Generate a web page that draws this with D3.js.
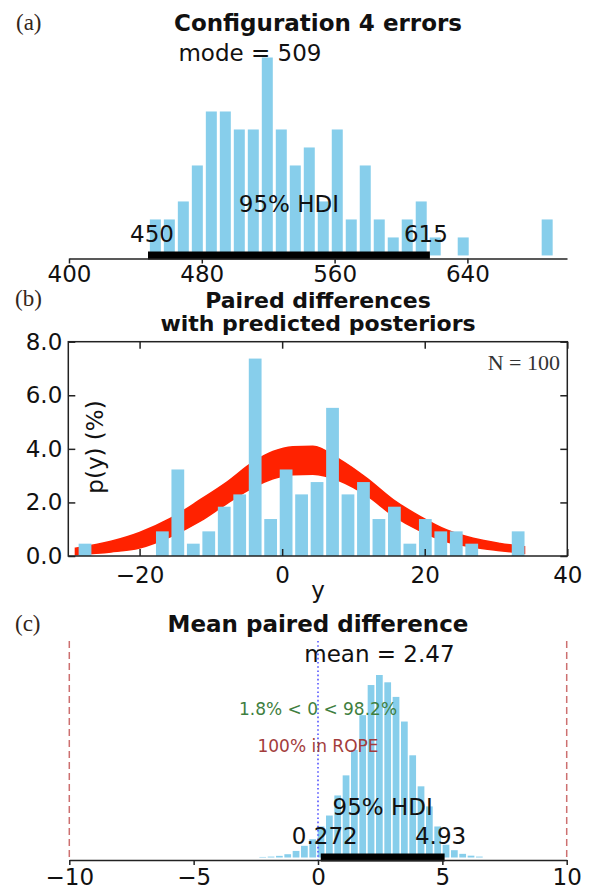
<!DOCTYPE html>
<html>
<head>
<meta charset="utf-8">
<script src="https://cdnjs.cloudflare.com/ajax/libs/d3/7.8.5/d3.min.js"></script>
<style>
  body { margin: 0; background: #fff; }
  svg { display: block; font-family: "DejaVu Sans", sans-serif; }
</style>
</head>
<body>
<div id="graphic"></div>
<script>
//(a) configuration 4 errors - histogram counts
var errBinStart = 447.8, errBinWidth = 8.43;
var errCounts = [2, 2, 3, 5, 8, 8, 7, 7, 11, 7, 5, 6, 3, 7, 2, 5, 2, 1, 2, 3, 1, 0, 1, 0, 0, 0, 0, 0, 2];
var errTicks = [400, 480, 560, 640];
var errMode = 509;
var errHdi = [450, 615];

//(b) paired differences - histogram in % plus envelope of predicted posteriors
var diffBinStart = -28.74, diffBinWidth = 2.17;
var diffPct = [0.46, 0, 0, 0, 0, 0.92, 3.23, 0.46, 0.92, 1.84, 2.30, 7.37, 1.38, 3.23, 2.30,
               2.76, 5.53, 2.30, 2.76, 1.38, 1.84, 0.46, 1.38, 0.92, 0.92, 0.46, 0, 0, 0.92];
var curveX     = [-29, -24, -20, -15.7, -11.5, -7.8, -4.1, -1.3, 1.5, 4.3, 8.1, 11.9, 15.6, 19.4, 23.1, 26.8, 30.6, 34];
var curveUpper = [0.29, 0.55, 0.88, 1.40, 2.10, 2.75, 3.50, 3.90, 4.08, 4.10, 3.60, 2.90, 2.10, 1.47, 0.97, 0.66, 0.47, 0.35];
var curveLower = [0.05, 0.15, 0.30, 0.72, 1.30, 1.95, 2.55, 2.88, 3.03, 3.05, 2.80, 2.25, 1.50, 0.93, 0.53, 0.33, 0.20, 0.10];
var diffXTicks = [-20, 0, 20, 40];
var diffYTicks = [0, 2, 4, 6, 8];

//(c) mean paired difference - posterior histogram (relative heights)
var meanBinStart = -2.39, meanBinWidth = 0.335;
var meanHeights = [0.3, 0.5, 0.9, 1.8, 3.6, 6.4, 10, 17, 23, 34, 45, 59, 78, 94.5, 100,
                   96, 88, 74.5, 56, 39, 28, 17, 7, 4, 2, 1, 0.5];
var meanTicks = [-10, -5, 0, 5, 10];
var meanValue = 2.47;
var meanHdi = [0.272, 4.93];
var ropeLimits = [-10, 10];
var compValue = 0;

var barColor = "#87ceeb";
var axisColor = "#222";

var svg = d3.select("#graphic").append("svg")
    .attr("width", 589)
    .attr("height", 890);

function bins(start, width, values) {
    return values.map(function(v, i) {
        return { x0: start + i * width, x1: start + (i + 1) * width, v: v };
    }).filter(function(d) { return d.v > 0; });
}

function drawBars(g, data, x, y, gap) {
    g.selectAll("rect.bar")
        .data(data)
        .enter().append("rect")
            .attr("class", "bar")
            .attr("x", function(d) { return x(d.x0) + gap / 2; })
            .attr("width", function(d) { return x(d.x1) - x(d.x0) - gap; })
            .attr("y", function(d) { return y(d.v); })
            .attr("height", function(d) { return y(0) - y(d.v); })
            .style("fill", barColor);
}

function styleAxis(g, size) {
    g.selectAll("path, line").attr("stroke", axisColor).attr("stroke-width", 1.5);
    g.selectAll("text")
        .attr("font-size", size)
        .attr("font-family", "DejaVu Sans, sans-serif")
        .attr("fill", "#111");
}

function label(g, txt, x, y, opts) {
    opts = opts || {};
    return g.append("text")
        .attr("x", x)
        .attr("y", y)
        .attr("text-anchor", opts.anchor || "middle")
        .attr("font-size", opts.size || 23)
        .attr("font-weight", opts.bold ? "bold" : null)
        .attr("font-family", opts.family || null)
        .style("fill", opts.color || "#111")
        .text(txt);
}

/* ---------- (a) ---------- */
var gA = svg.append("g");
var xA = d3.scaleLinear().domain([400, 700]).range([69, 567]);
var yA = d3.scaleLinear().domain([-0.17, 11]).range([258.5, 57.5]);

drawBars(gA, bins(errBinStart, errBinWidth, errCounts), xA, yA, 3);

gA.append("line")
    .attr("x1", xA(errHdi[0])).attr("x2", xA(errHdi[1]))
    .attr("y1", yA(0)).attr("y2", yA(0))
    .attr("stroke", "#000").attr("stroke-width", 8)
    .attr("stroke-linecap", "square");

var axA = gA.append("g")
    .attr("transform", "translate(0,258.5)")
    .call(d3.axisBottom(xA).tickValues(errTicks).tickSizeInner(5).tickSizeOuter(0).tickPadding(2));
styleAxis(axA, 23);

label(gA, "Configuration 4 errors", 318, 31, { bold: true });
label(gA, "(a)", 16, 30, { anchor: "start", size: 23, family: "Liberation Serif, serif", color: "#33261a" });
label(gA, "mode = " + errMode, xA(errMode), 60.5);
label(gA, "95% HDI", xA((errHdi[0] + errHdi[1]) / 2), 212);
label(gA, errHdi[0], xA(errHdi[0]), 242);
label(gA, errHdi[1], xA(errHdi[1]), 242);

/* ---------- (b) ---------- */
var gB = svg.append("g");
var xB = d3.scaleLinear().domain([-30, 40]).range([68.3, 567.3]);
var yB = d3.scaleLinear().domain([0, 8]).range([556, 341.7]);

var band = curveX.map(function(x, i) { return { x: x, hi: curveUpper[i], lo: curveLower[i] }; });

gB.append("path")
    .datum(band)
    .attr("d", d3.area()
        .x(function(d) { return xB(d.x); })
        .y0(function(d) { return yB(d.lo); })
        .y1(function(d) { return yB(d.hi); })
        .curve(d3.curveMonotoneX))
    .style("fill", "#ff2200")
    .style("stroke", "#ff2200")
    .style("stroke-width", 1.5);

drawBars(gB, bins(diffBinStart, diffBinWidth, diffPct), xB, yB, 2.7);

gB.append("rect")
    .attr("x", 68.3).attr("y", 341.7)
    .attr("width", 499).attr("height", 214.3)
    .style("fill", "none").style("stroke", axisColor).style("stroke-width", 1.5);

var axB1 = gB.append("g").attr("transform", "translate(0,556)")
    .call(d3.axisBottom(xB).tickValues(diffXTicks).tickSizeInner(-7).tickSizeOuter(0).tickPadding(10.5));
var axB2 = gB.append("g").attr("transform", "translate(0,341.7)")
    .call(d3.axisTop(xB).tickValues(diffXTicks).tickSizeInner(-7).tickSizeOuter(0).tickFormat(""));
var axB3 = gB.append("g").attr("transform", "translate(68.3,0)")
    .call(d3.axisLeft(yB).tickValues(diffYTicks).tickSizeInner(-7).tickSizeOuter(0).tickPadding(6).tickFormat(d3.format(".1f")));
var axB4 = gB.append("g").attr("transform", "translate(567.3,0)")
    .call(d3.axisRight(yB).tickValues(diffYTicks).tickSizeInner(-7).tickSizeOuter(0).tickFormat(""));
[axB1, axB2, axB3, axB4].forEach(function(a) {
    styleAxis(a, 23);
    a.select(".domain").remove();
});

label(gB, "Paired differences", 318, 308, { bold: true, size: 22 });
label(gB, "with predicted posteriors", 318, 331, { bold: true, size: 22 });
label(gB, "(b)", 15, 306, { anchor: "start", size: 23, family: "Liberation Serif, serif", color: "#33261a" });
label(gB, "y", 318, 598);
label(gB, "N = 100", 560, 370, { anchor: "end", size: 22, family: "Liberation Serif, serif", color: "#333" });
gB.append("text")
    .attr("transform", "translate(103,447) rotate(-90)")
    .attr("text-anchor", "middle")
    .attr("font-size", 23)
    .style("fill", "#111")
    .text("p(y) (%)");

/* ---------- (c) ---------- */
var gC = svg.append("g");
var xC = d3.scaleLinear().domain([-10, 10]).range([69.3, 566.7]);
var yC = d3.scaleLinear().domain([-1.37, 100]).range([860, 675]);

gC.selectAll("line.rope")
    .data(ropeLimits)
    .enter().append("line")
        .attr("class", "rope")
        .attr("x1", function(d) { return xC(d); })
        .attr("x2", function(d) { return xC(d); })
        .attr("y1", 641).attr("y2", 860)
        .style("stroke", "#cd7070")
        .style("stroke-width", 1.5)
        .style("stroke-dasharray", "7,4");

drawBars(gC, bins(meanBinStart, meanBinWidth, meanHeights), xC, yC, 1.6);

gC.append("line")
    .attr("x1", xC(compValue)).attr("x2", xC(compValue))
    .attr("y1", 641).attr("y2", 860)
    .style("stroke", "#5555ff")
    .style("stroke-width", 1.6)
    .style("stroke-dasharray", "1.6,2.6");

gC.append("line")
    .attr("x1", xC(meanHdi[0])).attr("x2", xC(meanHdi[1]))
    .attr("y1", yC(0)).attr("y2", yC(0))
    .attr("stroke", "#000").attr("stroke-width", 8)
    .attr("stroke-linecap", "square");

var axC = gC.append("g")
    .attr("transform", "translate(0,860)")
    .call(d3.axisBottom(xC).tickValues(meanTicks).tickSizeInner(5).tickSizeOuter(0).tickPadding(4));
styleAxis(axC, 23);

label(gC, "Mean paired difference", 318, 632, { bold: true });
label(gC, "(c)", 15, 631, { anchor: "start", size: 23, family: "Liberation Serif, serif", color: "#33261a" });
label(gC, "mean = " + meanValue, xC(meanValue), 661.5);
label(gC, "1.8% < 0 < 98.2%", xC(compValue), 715, { size: 17, color: "#3f7f3f" });
label(gC, "100% in ROPE", xC(compValue), 752, { size: 17, color: "#a33c3c" });
label(gC, "95% HDI", xC((meanHdi[0] + meanHdi[1]) / 2), 815);
label(gC, meanHdi[0], xC(meanHdi[0]), 844);
label(gC, meanHdi[1], xC(meanHdi[1]), 844);
</script>
</body>
</html>
